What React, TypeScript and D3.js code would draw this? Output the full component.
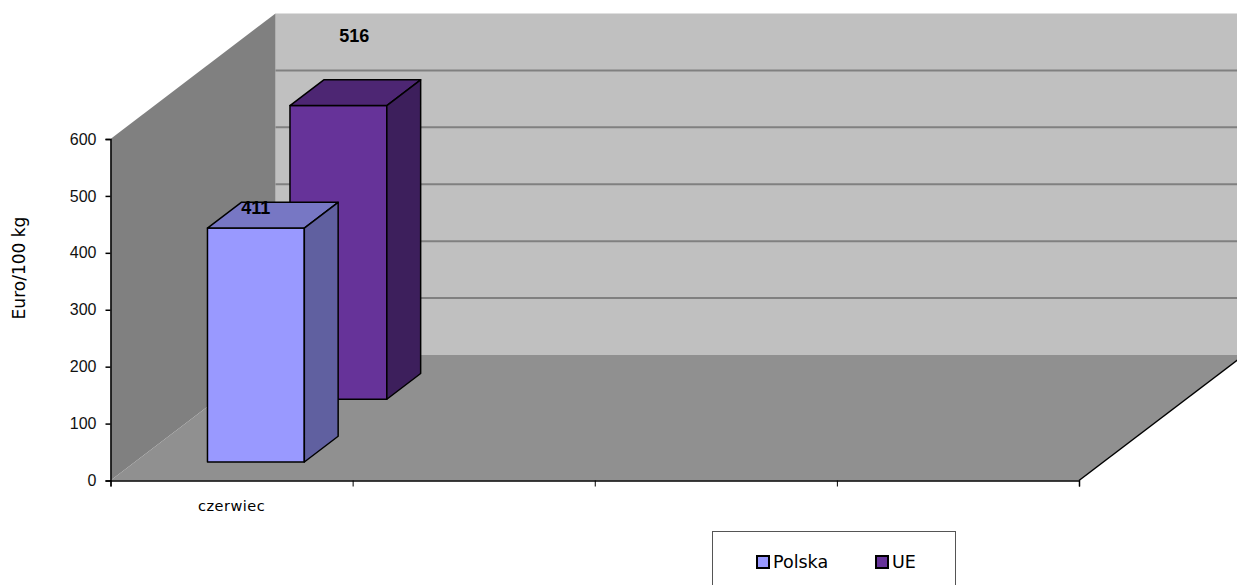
// Pseudo-3D column chart (Excel style) of prices, Polska vs UE
import { useRef, useEffect } from "react";
import * as d3 from "d3";

const categories = ["czerwiec", "b", "c", "d"];
const categoryLabels = ["czerwiec", "", "", ""];
const seriesNames = ["Polska", "UE"];
const polskaValues = [411];
const ueValues = [516];
const seriesValues = [polskaValues, ueValues];
const yTicks = [0, 100, 200, 300, 400, 500, 600];

const frontColors = ["#9999ff", "#663399"];
const topColors = ["#7777c4", "#4d2673"];
const sideColors = ["#6060a0", "#3d1f5c"];

const comic = "'Comic Sans MS', 'DejaVu Sans', sans-serif";
const arial = "'Liberation Sans', Arial, sans-serif";

export default function App() {
  const ref = useRef<SVGSVGElement>(null);

  useEffect(() => {
    const svg = d3.select(ref.current);
    svg.selectAll("*").remove();

    const x0 = 110.5;
    const x1 = 1079;
    const y0 = 480.5;
    const y1 = 139;
    // Offset of the back of the box from the front
    const depthX = 165;
    const depthY = -125.5;

    const x = d3
      .scaleBand()
      .domain(categories)
      .range([x0, x1])
      .paddingInner(0.6)
      .paddingOuter(0.3);
    const y = d3.scaleLinear().domain([0, 600]).range([y0, y1]);
    // Depth runs from 0 (front) to 1 (back wall), one band per series
    const z = d3
      .scaleBand()
      .domain(seriesNames)
      .range([0, 1])
      .paddingInner(0.59)
      .paddingOuter(0.295);

    // Project a point (screen x, screen y, depth) to the picture
    const project = (px: number, py: number, d: number): [number, number] => [
      px + d * depthX,
      py + d * depthY,
    ];
    const line = d3.line();
    const poly = (pts: [number, number][]) => line(pts) + "Z";

    // Back wall
    svg
      .append("path")
      .attr("d", poly([project(x0, y1, 1), project(1237, y1, 1), project(1237, y0, 1), project(x0, y0, 1)]))
      .attr("fill", "#c0c0c0");

    // Side wall
    svg
      .append("path")
      .attr("d", poly([project(x0, y1, 0), project(x0, y1, 1), project(x0, y0, 1), project(x0, y0, 0)]))
      .attr("fill", "#808080");

    // Gridlines on the back wall
    yTicks.slice(1, -1).forEach((t) => {
      svg
        .append("path")
        .attr("d", line([project(x0, y(t), 1), project(1237, y(t), 1)]))
        .attr("stroke", "#808080")
        .attr("stroke-width", 2)
        .attr("fill", "none");
    });

    // Floor
    svg
      .append("path")
      .attr("d", poly([project(x0, y0, 0), project(x1, y0, 0), project(x1, y0, 1), project(x0, y0, 1)]))
      .attr("fill", "#909090");
    // Right edge of the floor
    svg
      .append("path")
      .attr("d", line([project(x1, y0, 0), project(x1, y0, 1)]))
      .attr("stroke", "#000")
      .attr("stroke-width", 1.5);

    // Bars, back series first so the front one overlaps it
    const bars = seriesNames.map((name, i) => ({ name, i })).reverse();
    bars.forEach(({ name, i }) => {
      categories.slice(0, seriesValues[i].length).forEach((c, k) => {
        const v = seriesValues[i][k];
        const left = x(c);
        const right = left + x.bandwidth();
        const zf = z(name);
        const zb = zf + z.bandwidth();
        const g = svg
          .append("g")
          .attr("stroke", "#000")
          .attr("stroke-width", 1.5)
          .attr("stroke-linejoin", "round");
        g.append("path")
          .attr("d", poly([project(left, y(v), zf), project(right, y(v), zf), project(right, y(0), zf), project(left, y(0), zf)]))
          .attr("fill", frontColors[i]);
        g.append("path")
          .attr("d", poly([project(left, y(v), zf), project(left, y(v), zb), project(right, y(v), zb), project(right, y(v), zf)]))
          .attr("fill", topColors[i]);
        g.append("path")
          .attr("d", poly([project(right, y(v), zf), project(right, y(v), zb), project(right, y(0), zb), project(right, y(0), zf)]))
          .attr("fill", sideColors[i]);
      });
    });

    // Data labels, Excel places them oddly so each series has its own nudge
    const labelShift = [
      [-17, -1],
      [-1, -51],
    ];
    seriesNames.forEach((name, i) => {
      const v = seriesValues[i][0];
      const c = categories[0];
      const [lx, ly] = project(x(c) + x.bandwidth() / 2, y(v), z(name) + z.bandwidth() / 2);
      svg
        .append("text")
        .attr("x", lx + labelShift[i][0])
        .attr("y", ly + labelShift[i][1])
        .attr("text-anchor", "middle")
        .style("font-family", arial)
        .style("font-weight", "bold")
        .style("font-size", "18px")
        .text(v);
    });

    // Y axis
    const yAxis = svg
      .append("g")
      .attr("transform", `translate(${x0},0)`)
      .call(d3.axisLeft(y).tickValues(yTicks).tickSize(5).tickPadding(9));
    yAxis.selectAll("path, line").attr("stroke", "#000").attr("stroke-width", 1.5);
    yAxis.selectAll("text").style("font-family", arial).style("font-size", "16px").attr("fill", "#111");

    // X axis: ticks sit between categories
    const xEdges = d3.scaleLinear().domain([0, categories.length]).range([x0, x1]);
    const xAxis = svg
      .append("g")
      .attr("transform", `translate(0,${y0})`)
      .call(
        d3
          .axisBottom(xEdges)
          .tickValues(d3.range(categories.length + 1))
          .tickSize(6)
          .tickFormat(() => "")
      );
    xAxis.select("path").attr("stroke", "#000").attr("stroke-width", 1.5);
    xAxis.selectAll("line").attr("stroke", "#000").attr("stroke-width", 1);

    // Category labels
    categories.forEach((c, i) => {
      svg
        .append("text")
        .attr("x", x(c) + x.bandwidth() / 2)
        .attr("y", 511)
        .attr("text-anchor", "middle")
        .style("font-family", comic)
        .style("font-size", "14.5px")
        .style("letter-spacing", "0.5px")
        .text(categoryLabels[i]);
    });

    // Y axis title
    svg
      .append("text")
      .attr("transform", "translate(25,268) rotate(-90)")
      .attr("text-anchor", "middle")
      .style("font-family", comic)
      .style("font-size", "17px")
      .text("Euro/100 kg");

    // Legend
    const legend = svg.append("g");
    legend
      .append("rect")
      .attr("x", 712.5)
      .attr("y", 531.5)
      .attr("width", 243)
      .attr("height", 60)
      .attr("fill", "#fff")
      .attr("stroke", "#555")
      .attr("stroke-width", 1);
    const legendX = [757, 876];
    seriesNames.forEach((name, i) => {
      legend
        .append("rect")
        .attr("x", legendX[i])
        .attr("y", 556)
        .attr("width", 12)
        .attr("height", 12)
        .attr("fill", frontColors[i])
        .attr("stroke", "#000")
        .attr("stroke-width", 2);
      legend
        .append("text")
        .attr("x", legendX[i] + 16)
        .attr("y", 568)
        .style("font-family", comic)
        .style("font-size", "17.5px")
        .text(name);
    });
  }, []);

  return (
    <svg
      ref={ref}
      width={1237}
      height={585}
      style={{ position: "absolute", left: 0, top: 0, background: "#fff" }}
    ></svg>
  );
}
